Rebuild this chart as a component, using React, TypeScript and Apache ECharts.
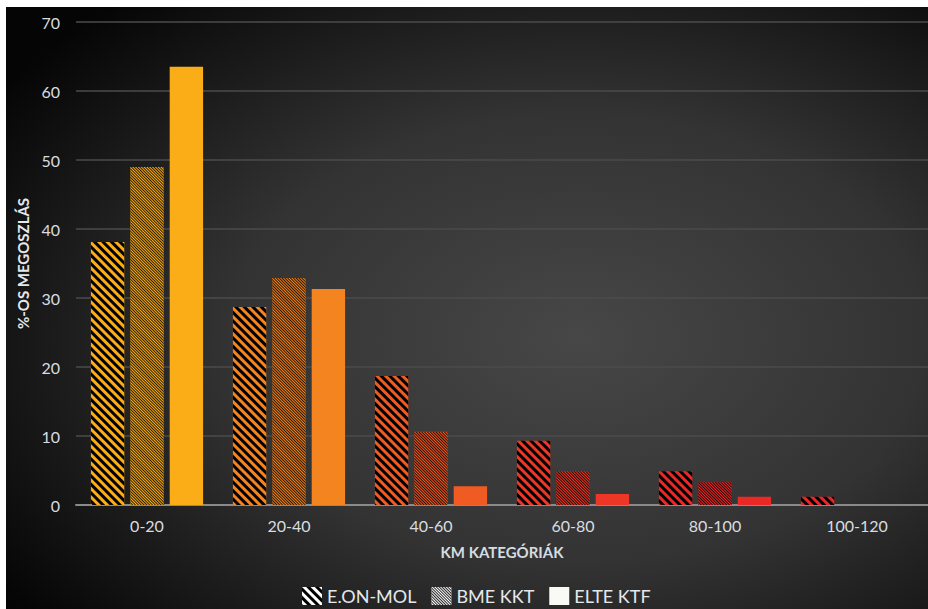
import React, { useEffect, useRef } from "react";
import * as echarts from "echarts";

const categories = ["0-20", "20-40", "40-60", "60-80", "80-100", "100-120"];
const categoryColors = ["#fbad18", "#f3841f", "#f05a23", "#ec3726", "#ea2927", "#e8262a"];
const seriesNames = ["E.ON-MOL", "BME KKT", "ELTE KTF"];
const eonMol = [38.1, 28.7, 18.7, 9.3, 4.9, 1.2];
const bmeKkt = [49.0, 32.9, 10.6, 4.9, 3.3, 0];
const elteKtf = [63.5, 31.3, 2.7, 1.6, 1.2, 0];
const yTicks = { min: 0, max: 70, interval: 10 };

const FONT = "Lato, 'Open Sans', sans-serif";

export default function App() {
  const ref = useRef<HTMLDivElement>(null);
  useEffect(() => {
    if (!ref.current) return;
    const chart = echarts.init(ref.current, null, { renderer: "svg" });
    const wideStripes = {
      symbol: "rect",
      symbolSize: 1,
      color: "#000",
      dashArrayX: [1, 0],
      dashArrayY: [3, 3],
      rotation: Math.PI / 4,
    };
    const fineStripes = {
      symbol: "rect",
      symbolSize: 1,
      color: "rgba(0,0,0,0.85)",
      dashArrayX: [1, 0],
      dashArrayY: [1, 1],
      rotation: Math.PI / 4,
    };
    const mk = (name: string, values: number[], decal: any) => ({
      name,
      type: "bar",
      barGap: "18%",
      barCategoryGap: "21%",
      itemStyle: decal ? { color: "#ffffff", decal } : { color: "#fafaf5" },
      data: values.map((v, i) => ({
        value: v,
        itemStyle: decal
          ? { color: categoryColors[i], decal }
          : { color: categoryColors[i] },
      })),
    });
    chart.setOption({
      animation: false,
      backgroundColor: {
        type: "radial",
        x: 0.62,
        y: 0.55,
        r: 0.75,
        colorStops: [
          { offset: 0, color: "#474747" },
          { offset: 0.5, color: "#333333" },
          { offset: 1, color: "#050505" },
        ],
      },
      textStyle: { fontFamily: FONT },
      grid: { left: 70, right: 0, top: 15, bottom: 104 },
      legend: {
        left: 296,
        top: 580,
        padding: 0,
        itemWidth: 20,
        itemHeight: 18,
        itemGap: 15,
        icon: "rect",
        data: seriesNames,
        textStyle: { color: "#e4e8eb", fontSize: 18, fontFamily: FONT },
      },
      xAxis: {
        type: "category",
        data: categories,
        name: "KM KATEGÓRIÁK",
        nameLocation: "middle",
        nameGap: 39,
        nameTextStyle: { color: "#d5dde2", fontWeight: "bold", fontSize: 15, fontFamily: FONT },
        axisLine: { lineStyle: { color: "#8a8a8a", width: 2 } },
        axisTick: { show: false },
        axisLabel: { color: "#d9dde0", fontSize: 16, margin: 12, fontFamily: FONT },
      },
      yAxis: {
        type: "value",
        min: yTicks.min,
        max: yTicks.max,
        interval: yTicks.interval,
        name: "%-OS MEGOSZLÁS",
        nameLocation: "middle",
        nameGap: 37,
        nameTextStyle: { color: "#e4e8eb", fontWeight: "bold", fontSize: 15, fontFamily: FONT },
        axisLine: { show: false },
        axisTick: { show: false },
        axisLabel: { color: "#d9dde0", fontSize: 16, margin: 16, fontFamily: FONT },
        splitLine: { lineStyle: { color: "#4b4b4b", width: 1.5 } },
      },
      series: [
        mk(seriesNames[0], eonMol, wideStripes),
        mk(seriesNames[1], bmeKkt, fineStripes),
        mk(seriesNames[2], elteKtf, null),
      ],
    });
    return () => chart.dispose();
  }, []);
  return (
    <div
      ref={ref}
      style={{ position: "absolute", left: 6, top: 7, width: 922, height: 602 }}
    />
  );
}
